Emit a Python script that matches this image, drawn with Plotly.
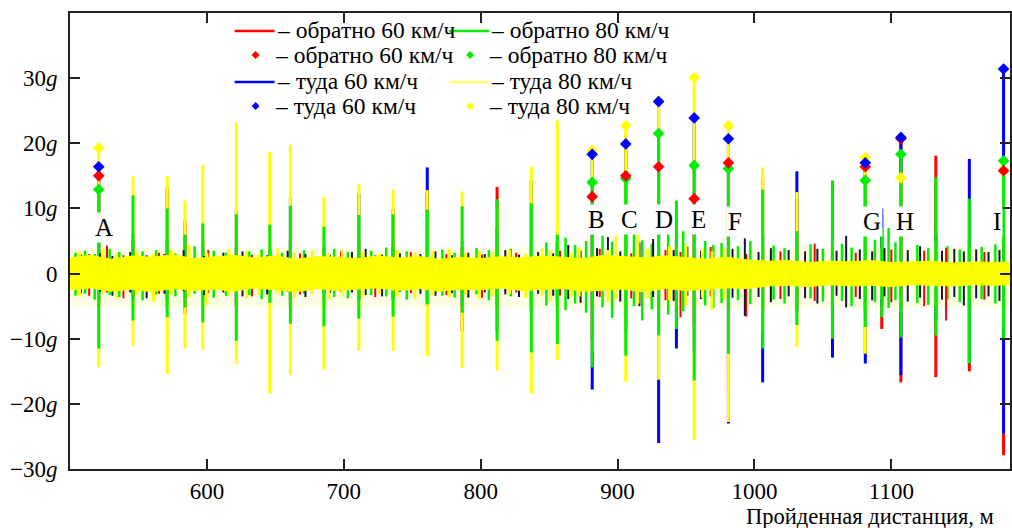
import plotly.graph_objects as go

# ---------------- data ----------------
spike_x = [521, 546, 571, 584, 597, 621.5, 646, 661, 685.5, 711, 736, 761, 786.5, 812, 837,
           856, 881.5, 906, 930, 943, 956, 981, 1006, 1031, 1057, 1081, 1093, 1107, 1132.5, 1157, 1182]
yellow_top = [19.3, 14.9, 15.0, 11.2, 16.7, 23.2, 18.7, 19.8, 11.8, 13.8, 12.9, 12.8, 12.6, 10.0, 16.4,
              23.5, 18.9, 22.7, 26.5, 6.0, 30.1, 22.7, 16.3, 12.5, 5.0, 17.8, 4.0, 14.7, 5.0, 4.0, 15.8]
yellow_bot = [-14.4, -11.0, -15.4, -11.5, -11.7, -13.8, -18.4, -15.6, -14.7, -11.8, -11.9, -12.7, -14.5, -14.9, -18.4,
              -13.3, -12.0, -16.6, -16.3, -5.0, -25.5, -22.8, -9.0, -11.3, -5.0, -12.3, -4.0, -6.0, -5.0, -4.0, -8.0]
green_top = [12.9, 12.0, 10.0, 6.0, 7.7, 9.1, 7.5, 10.4, 7.2, 9.0, 9.1, 9.8, 10.3, 11.4, 10.8,
             6.0, 14.0, 14.6, 21.5, 11.2, 16.6, 16.1, 12.9, 6.5, 14.3, 14.3, 6.9, 18.3, 14.8, 11.5, 17.3]
green_bot = [-11.5, -7.2, -6.7, -5.2, -7.5, -10.3, -4.5, -7.7, -8.1, -6.9, -6.6, -4.7, -6.0, -10.3, -12.1,
             -10.8, -14.4, -12.6, -9.5, -8.5, -16.4, -12.3, -11.5, -7.9, -10.0, -8.2, -6.7, -9.8, -9.5, -13.8, -10.0]
red_top = [15.0, 6.0, 13.2, 8.1, 5.0, 9.7, 4.0, 5.0, 4.0, 5.0, 9.8, 12.3, 4.0, 13.3, 5.0,
           5.0, 11.8, 15.0, 16.4, 4.0, 11.5, 17.0, 14.6, 11.5, 5.0, 16.4, 9.0, 20.7, 18.1, 5.0, 15.8]
red_bot = [-5.0, -4.0, -5.0, -6.2, -4.0, -5.0, -3.0, -4.0, -4.0, -4.0, -4.0, -4.0, -9.0, -5.0, -5.0,
           -4.0, -10.0, -8.0, -8.0, -4.0, -8.0, -18.4, -6.0, -5.0, -5.0, -6.0, -8.5, -16.7, -15.9, -15.0, -27.9]
blue_top = [16.4, 5.0, 5.0, 5.5, 4.0, 4.0, 3.5, 11.7, 4.0, 12.3, 4.0, 16.3, 5.0, 6.9, 14.3,
            5.0, 18.3, 19.9, 26.4, 5.0, 23.9, 20.7, 6.0, 15.7, 13.3, 17.0, 10.0, 20.9, 6.0, 17.6, 31.4]
blue_bot = [-4.0, -3.5, -4.0, -4.0, -3.0, -5.0, -3.0, -5.0, -3.0, -4.0, -4.0, -5.0, -5.0, -8.7, -6.0,
            -5.0, -17.8, -9.0, -26.0, -11.5, -12.0, -23.0, -16.7, -6.0, -12.9, -13.8, -5.0, -15.6, -7.0, -13.8, -24.5]

# marked events (peaks with diamonds)
event_x = [521, 881.5, 906, 930, 956, 981, 1081, 1107, 1182]
event_labels = ["A", "B", "C", "D", "E", "F", "G", "H", "I"]

# small noise spikes at the band edges
green_minor_x = [504, 511, 518, 529, 536, 553, 563, 577, 591, 605, 614, 631, 640, 655, 671, 693, 703, 720, 731, 746,
                 772, 781, 797, 806, 822, 848, 862, 869, 877, 889, 896, 912, 918, 925, 937, 948, 964, 970, 976, 988,
                 997, 1014, 1022, 1041, 1050, 1064, 1071, 1088, 1098, 1103, 1119, 1127, 1141, 1150, 1166, 1176]
green_minor_top = [3.2, 3.5, 3.0, 3.8, 3.3, 3.4, 3.6, 3.1, 4.2, 3.5, 3.2, 3.4, 3.7, 3.2, 3.6, 3.8, 3.3, 3.5, 4.0, 3.4,
                   3.7, 3.2, 3.9, 3.6, 3.8, 4.8, 5.5, 4.4, 5.0, 5.8, 4.9, 6.2, 5.1, 4.6, 7.9, 6.5, 5.0, 4.4, 4.7, 4.2,
                   5.0, 4.3, 3.9, 4.5, 3.8, 4.6, 4.0, 5.2, 7.0, 4.8, 4.4, 3.9, 4.2, 3.7, 4.1, 4.5]
green_minor_bot = [-3.4, -3.1, -4.0, -3.3, -3.6, -4.1, -3.2, -3.5, -3.1, -3.7, -3.4, -3.3, -3.9, -3.4, -3.1, -3.6, -3.8, -3.3, -3.5, -4.0,
                   -3.4, -3.7, -3.2, -4.1, -3.5, -4.9, -5.6, -4.6, -6.0, -5.2, -6.8, -5.0, -7.2, -5.5, -6.3, -5.8, -4.9, -5.3, -4.5, -4.1,
                   -4.7, -4.0, -4.6, -3.8, -4.3, -4.2, -5.0, -4.4, -5.3, -4.1, -4.5, -4.8, -4.0, -4.4, -3.9, -4.6]
dark_minor_x = [508, 522, 531, 544, 556, 569, 583, 598, 612, 626, 644, 659, 672, 690, 706, 716, 728, 741, 756, 767,
                779, 791, 803, 818, 828, 842, 853, 864, 873, 885, 893, 902, 916, 926, 941, 951, 961, 984, 993, 1003,
                1012, 1025, 1037, 1046, 1060, 1067, 1077, 1086, 1095, 1112, 1121, 1137, 1146, 1153, 1162, 1171, 1179]
dark_minor_top = [2.9, 3.1, 2.7, 3.3, 2.8, 3.0, 3.6, 2.7, 3.2, 3.4, 2.8, 3.5, 3.0, 2.9, 3.3, 3.8, 2.9, 3.1, 3.0, 3.4,
                  2.8, 3.2, 3.0, 3.6, 2.9, 3.3, 3.1, 4.4, 3.5, 3.9, 5.6, 3.4, 4.8, 5.3, 3.6, 4.1, 3.5, 3.8, 5.4, 3.3,
                  3.9, 3.6, 3.4, 3.8, 3.5, 5.8, 3.7, 3.4, 3.9, 3.6, 4.2, 3.5, 3.8, 3.4, 3.7, 3.3, 3.6]
dark_minor_bot = [-3.0, -2.8, -3.4, -2.9, -3.8, -3.1, -2.7, -3.3, -2.9, -3.5, -3.2, -2.8, -3.6, -3.0, -2.9, -3.3, -3.5, -2.8, -3.1, -3.4,
                  -3.0, -3.7, -2.9, -3.2, -3.6, -3.1, -3.4, -3.9, -4.5, -3.5, -3.8, -4.3, -5.0, -3.6, -4.2, -3.4, -3.9, -3.7, -6.5, -3.6,
                  -4.4, -3.5, -3.8, -4.6, -3.4, -5.2, -3.9, -4.1, -3.5, -4.3, -3.7, -4.0, -3.6, -4.9, -3.8, -3.5, -4.2]
red_minor_x = [514, 527, 539, 565, 601, 633, 668, 698, 723, 749, 775, 801, 826, 858, 887, 910, 935, 946, 968, 994,
               1019, 1044, 1074, 1100, 1124, 1140, 1168]
red_minor_top = [3.0, 4.3, 2.8, 3.2, 3.6, 2.9, 3.1, 3.4, 2.8, 3.3, 3.0, 2.9, 3.2, 3.5, 3.8, 3.1, 3.6, 3.3, 4.1, 3.0,
                 3.4, 4.6, 3.2, 3.7, 3.5, 3.9, 3.3]
red_minor_bot = [-3.4, -2.9, -3.8, -3.1, -3.0, -3.5, -3.2, -2.8, -3.6, -3.0, -3.3, -3.7, -2.9, -3.4, -3.6, -3.8, -4.1, -6.7, -3.5, -6.6,
                 -3.9, -4.2, -3.6, -4.4, -5.0, -7.2, -4.0]
yellow_minor_x = [507, 524, 534, 549, 561, 574, 587, 600, 616, 629, 638, 652, 664, 677, 689, 699, 714, 726, 739, 752,
                  765, 777, 789, 799, 809, 821, 833, 845, 851, 866, 872, 893, 899, 915, 922, 938, 950, 962, 969, 978]
yellow_minor_top = [3.3, 3.8, 3.1, 3.5, 3.0, 3.6, 4.4, 3.2, 3.7, 3.4, 3.0, 3.9, 3.3, 3.5, 3.1, 3.7, 3.4, 3.0, 3.6, 3.2,
                    3.5, 3.8, 3.1, 3.4, 3.3, 3.6, 3.0, 3.9, 3.5, 3.2, 4.0, 3.6, 5.8, 6.0, 3.8, 4.2, 4.5, 3.7, 3.4, 3.9]
yellow_minor_bot = [-3.5, -3.1, -3.9, -3.3, -4.3, -3.2, -3.6, -4.8, -3.4, -3.8, -3.3, -3.1, -3.7, -3.2, -4.0, -3.4, -3.6, -3.1, -3.5, -3.9,
                    -3.3, -3.6, -3.2, -3.8, -3.5, -3.1, -3.7, -3.4, -4.2, -3.6, -3.5, -4.4, -3.9, -4.6, -3.8, -4.1, -4.9, -3.7, -5.6, -3.9]

# dense yellow noise band envelope
band_x = [500, 515, 530, 545, 560, 575, 590, 605, 620, 635, 650, 665, 680, 695, 710, 725, 740, 755, 770, 785,
          800, 815, 830, 845, 860, 875, 890, 905, 920, 935, 950, 965, 980, 995, 1010, 1025, 1040, 1055, 1070, 1085,
          1100, 1115, 1130, 1145, 1160, 1175, 1187]
band_up = [2.4, 2.8, 2.2, 2.7, 2.5, 2.9, 2.3, 2.6, 2.8, 2.4, 2.7, 2.2, 2.6, 2.5, 2.3, 2.7, 2.4, 2.6, 2.2, 2.5,
           2.3, 2.6, 2.4, 2.7, 2.5, 2.3, 2.8, 2.6, 2.4, 2.7, 2.5, 2.2, 2.5, 2.1, 1.9, 2.0, 1.7, 1.9, 1.8, 2.0,
           1.7, 1.8, 1.9, 1.6, 1.8, 1.7, 1.8]
band_lo = [-2.5, -2.2, -2.7, -2.4, -2.8, -2.3, -2.6, -2.4, -2.7, -2.2, -2.5, -2.8, -2.3, -2.6, -2.4, -2.2, -2.6, -2.3, -2.7, -2.4,
           -2.5, -2.2, -2.6, -2.4, -2.3, -2.7, -2.5, -2.4, -2.8, -2.3, -2.6, -2.4, -2.2, -2.3, -1.9, -1.8, -2.0, -1.7, -1.9, -1.8,
           -2.0, -1.7, -1.8, -1.9, -1.7, -1.8, -1.7]
halo_x = [500, 1187]
halo_up = [3.9, 3.9]
halo_lo = [-5.2, -5.2]

y_ticks = [-30, -20, -10, 0, 10, 20, 30]
y_ticktext = ["−30<i>g</i>", "−20<i>g</i>", "−10<i>g</i>", "0", "10<i>g</i>", "20<i>g</i>", "30<i>g</i>"]
x_ticks = [600, 700, 800, 900, 1000, 1100]

legend_text = ["– обратно 60 км/ч", "– обратно 80 км/ч", "– туда 60 км/ч", "– туда 80 км/ч"]

RED, GREEN, BLUE, YELLOW, DARK = "#ff0000", "#00f000", "#0000ff", "#ffff00", "#14143c"
FONT = "Liberation Serif, Times New Roman, serif"


def segs(xs, tops, bots):
    X, Y = [], []
    for x, t, b in zip(xs, tops, bots):
        X += [x, x, None]
        Y += [b, t, None]
    return X, Y


fig = go.Figure()

# faint halo around the noise band
fig.add_trace(go.Scatter(x=halo_x + halo_x[::-1], y=halo_up + halo_lo[::-1], fill="toself",
                         fillcolor="rgb(253,253,228)", line=dict(width=0), mode="lines",
                         hoverinfo="skip", showlegend=False))

for (tops, bots, col) in [(red_top, red_bot, RED), (blue_top, blue_bot, BLUE),
                          (yellow_top, yellow_bot, YELLOW), (green_top, green_bot, GREEN)]:
    X, Y = segs(spike_x, tops, bots)
    fig.add_trace(go.Scatter(x=X, y=Y, mode="lines", line=dict(color=col, width=3),
                             hoverinfo="skip", showlegend=False))

for (xs, tops, bots, col, w) in [(green_minor_x, green_minor_top, green_minor_bot, GREEN, 2.5),
                                 (red_minor_x, red_minor_top, red_minor_bot, RED, 2),
                                 (dark_minor_x, dark_minor_top, dark_minor_bot, DARK, 2),
                                 (yellow_minor_x, yellow_minor_top, yellow_minor_bot, YELLOW, 3)]:
    X, Y = segs(xs, tops, bots)
    fig.add_trace(go.Scatter(x=X, y=Y, mode="lines", line=dict(color=col, width=w),
                             hoverinfo="skip", showlegend=False))

# dense yellow noise band
fig.add_trace(go.Scatter(x=band_x + band_x[::-1], y=band_up + band_lo[::-1], fill="toself",
                         fillcolor=YELLOW, line=dict(width=1, color=YELLOW), mode="lines",
                         hoverinfo="skip", showlegend=False))

# diamonds at the marked peaks
idx = [spike_x.index(e) for e in event_x]
for tops, col in [(yellow_top, YELLOW), (green_top, GREEN), (red_top, RED), (blue_top, BLUE)]:
    fig.add_trace(go.Scatter(x=event_x, y=[tops[i] for i in idx], mode="markers",
                             marker=dict(symbol="diamond", size=9, color=col),
                             hoverinfo="skip", showlegend=False))

annotations = []
shapes = []
label_dx = [4, 3, 3, 4, 3, 5, 5, 3, -5]
label_y = [7.0, 8.3, 8.3, 8.3, 8.3, 8.0, 8.0, 8.0, 8.0]
for ex, lab, dx, ly in zip(event_x, event_labels, label_dx, label_y):
    annotations.append(dict(x=ex + dx, y=ly, xref="x", yref="y", text=lab, showarrow=False,
                            font=dict(family=FONT, size=25, color="black"), bgcolor="white",
                            borderpad=1))

# legend (drawn by hand, two columns)
PW, PH, L, B = 942.0, 456.0, 70.0, 469.0


def px(xp):
    return (xp - L) / PW


def py(yp):
    return (B - yp) / PH


rows = [30, 55, 81, 106]
col_text = [275, 490]
items = [  # (row, col, kind, colour, text index)
    (0, 0, "line", RED, 0), (0, 1, "line", GREEN, 1),
    (1, 0, "mark", RED, 0), (1, 1, "mark", GREEN, 1),
    (2, 0, "line", BLUE, 2), (2, 1, "line", "#ffff70", 3),
    (3, 0, "mark", BLUE, 2), (3, 1, "mark", YELLOW, 3),
]
for r, c, kind, col, ti in items:
    yc = rows[r]
    tx = col_text[c] - (2 if kind == "mark" else 0)
    annotations.append(dict(x=px(tx), y=py(yc), xref="paper", yref="paper", xanchor="left",
                            yanchor="middle", text=legend_text[ti], showarrow=False,
                            font=dict(family=FONT, size=23.5, color="black")))
    if kind == "line":
        shapes.append(dict(type="line", xref="paper", yref="paper", x0=px(col_text[c] - 40),
                           x1=px(col_text[c]), y0=py(yc + 1), y1=py(yc + 1),
                           line=dict(color=col, width=2.5)))
    else:
        cx, cy, h = col_text[c] - 19, yc, 4
        path = (f"M {px(cx)},{py(cy - h)} L {px(cx + h)},{py(cy)} "
                f"L {px(cx)},{py(cy + h)} L {px(cx - h)},{py(cy)} Z")
        shapes.append(dict(type="path", xref="paper", yref="paper", path=path,
                           fillcolor=col, line=dict(width=0)))

annotations.append(dict(x=px(745), y=py(516), xref="paper", yref="paper", xanchor="left",
                        yanchor="middle", text="Пройденная дистанция, м", showarrow=False,
                        font=dict(family=FONT, size=22.5, color="black")))

axis_common = dict(showline=True, linewidth=2, linecolor="#222", mirror="ticks", ticks="inside",
                   ticklen=10, tickwidth=2, tickcolor="#222", showgrid=False, zeroline=False,
                   tickfont=dict(family=FONT, size=23, color="black"))

fig.update_layout(
    width=1012, height=528,
    margin=dict(l=70, r=0, t=13, b=59),
    font=dict(family=FONT, color="black"),
    paper_bgcolor="white", plot_bgcolor="white",
    xaxis=dict(range=[500, 1186.7], tickvals=x_ticks, ticklabelstandoff=0, **axis_common),
    yaxis=dict(range=[-30, 40], tickvals=y_ticks, ticktext=y_ticktext, ticklabelstandoff=6,
               **axis_common),
    annotations=annotations, shapes=shapes, showlegend=False,
)

fig.write_html("out.html", config={"displayModeBar": False},
               post_script="document.body.style.margin='0';document.body.style.overflow='hidden';")
